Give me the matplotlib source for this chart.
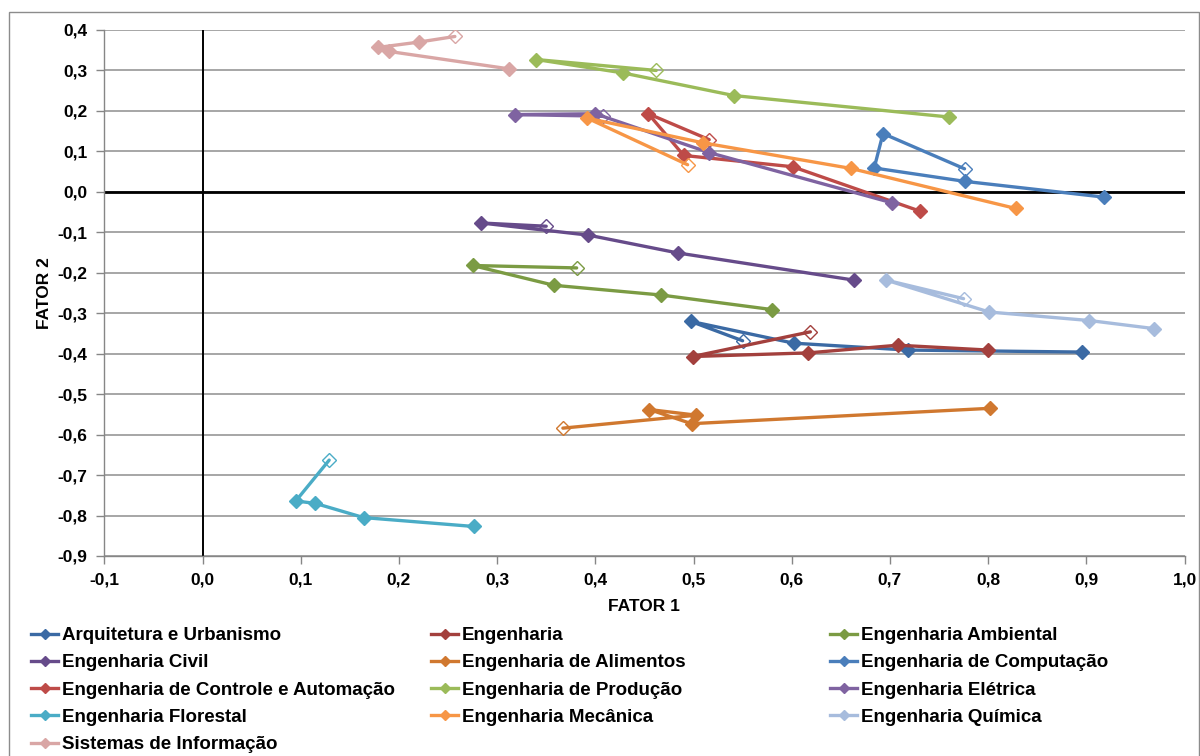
import matplotlib
matplotlib.use('Agg')
import matplotlib.pyplot as plt
from matplotlib.lines import Line2D
from matplotlib.patches import Rectangle
from matplotlib.ticker import MultipleLocator, FuncFormatter

plt.rcParams['font.family'] = ['Liberation Sans', 'DejaVu Sans']

# ---- data (first point of each series is the open marker) ----
names = ["Arquitetura e Urbanismo", "Engenharia", "Engenharia Ambiental",
         "Engenharia Civil", "Engenharia de Alimentos", "Engenharia de Computação",
         "Engenharia de Controle e Automação", "Engenharia de Produção",
         "Engenharia Elétrica", "Engenharia Florestal", "Engenharia Mecânica",
         "Engenharia Química", "Sistemas de Informação"]

colors = ["#3B6AA4", "#A3403D", "#7B9B43", "#664B8A", "#D0782F", "#4A7EBB",
          "#BE4B48", "#9BBB59", "#7F63A1", "#4AACC6", "#F79646", "#A7BCDD",
          "#D9A6A5"]

x_arquitetura = [0.550, 0.497, 0.602, 0.718, 0.896]
y_arquitetura = [-0.368, -0.320, -0.374, -0.391, -0.396]

x_engenharia = [0.619, 0.499, 0.617, 0.708, 0.800]
y_engenharia = [-0.346, -0.407, -0.398, -0.379, -0.391]

x_ambiental = [0.381, 0.275, 0.358, 0.467, 0.580]
y_ambiental = [-0.188, -0.182, -0.231, -0.255, -0.291]

x_civil = [0.350, 0.284, 0.393, 0.484, 0.663]
y_civil = [-0.085, -0.077, -0.107, -0.151, -0.218]

x_alimentos = [0.367, 0.503, 0.455, 0.498, 0.802]
y_alimentos = [-0.584, -0.552, -0.538, -0.573, -0.535]

x_computacao = [0.776, 0.693, 0.684, 0.776, 0.918]
y_computacao = [0.057, 0.144, 0.059, 0.026, -0.013]

x_controle = [0.516, 0.454, 0.490, 0.601, 0.731]
y_controle = [0.129, 0.193, 0.090, 0.062, -0.048]

x_producao = [0.462, 0.340, 0.428, 0.541, 0.760]
y_producao = [0.300, 0.327, 0.294, 0.238, 0.185]

x_eletrica = [0.408, 0.318, 0.400, 0.516, 0.702]
y_eletrica = [0.187, 0.191, 0.193, 0.097, -0.027]

x_florestal = [0.129, 0.095, 0.115, 0.164, 0.276]
y_florestal = [-0.663, -0.764, -0.770, -0.805, -0.827]

x_mecanica = [0.494, 0.392, 0.510, 0.660, 0.828]
y_mecanica = [0.067, 0.182, 0.121, 0.058, -0.041]

x_quimica = [0.775, 0.696, 0.801, 0.903, 0.969]
y_quimica = [-0.264, -0.218, -0.297, -0.318, -0.338]

x_sistemas = [0.257, 0.220, 0.179, 0.190, 0.312]
y_sistemas = [0.384, 0.370, 0.357, 0.347, 0.304]

xs = [x_arquitetura, x_engenharia, x_ambiental, x_civil, x_alimentos,
      x_computacao, x_controle, x_producao, x_eletrica, x_florestal,
      x_mecanica, x_quimica, x_sistemas]
ys = [y_arquitetura, y_engenharia, y_ambiental, y_civil, y_alimentos,
      y_computacao, y_controle, y_producao, y_eletrica, y_florestal,
      y_mecanica, y_quimica, y_sistemas]

W, H = 1200, 756
fig = plt.figure(figsize=(W / 100, H / 100), dpi=100)
L, R, T, B = 104.3, 1184.5, 30, 556
ax = fig.add_axes([L / W, 1 - B / H, (R - L) / W, (B - T) / H])

ax.set_xlim(-0.1, 1.0)
ax.set_ylim(-0.9, 0.4)
ax.xaxis.set_major_locator(MultipleLocator(0.1))
ax.yaxis.set_major_locator(MultipleLocator(0.1))


def fmt(v, pos):
    v = round(v, 1)
    if v == 0:
        v = 0.0
    return f"{v:.1f}".replace('.', ',')


ax.xaxis.set_major_formatter(FuncFormatter(fmt))
ax.yaxis.set_major_formatter(FuncFormatter(fmt))

for lab in ax.get_xticklabels() + ax.get_yticklabels():
    lab.set_fontweight('bold')
    lab.set_fontsize(12.5)

ax.tick_params(axis='both', direction='out', length=6, width=1, color='#868686',
               labelsize=12.5, pad=6)

for s in ['top', 'right']:
    ax.spines[s].set_visible(False)
for s in ['left', 'bottom']:
    ax.spines[s].set_color('#868686')
    ax.spines[s].set_linewidth(1)

ax.yaxis.grid(True, color='#A6A6A6', lw=1.4)
ax.set_axisbelow(True)

ax.axhline(0, color='black', lw=2.0, zorder=1.5)
ax.axvline(0, color='black', lw=1.4, zorder=1.5)

for x, y, c in zip(xs, ys, colors):
    ax.plot(x, y, color=c, lw=2.4, marker='D', ms=7, mfc=c, mec=c, mew=1,
            markevery=list(range(1, len(x))), zorder=3,
            solid_joinstyle='round', solid_capstyle='round')
    ax.plot(x[:1], y[:1], linestyle='none', marker='D', ms=7, mfc='none',
            mec=c, mew=1, zorder=3)

ax.set_xlabel('FATOR 1', fontsize=12.5, fontweight='bold', labelpad=8)
ax.set_ylabel('FATOR 2', fontsize=12.5, fontweight='bold', labelpad=4)

# legend in three columns (row-major order)
handles = [Line2D([], [], color=c, lw=2.4, marker='D', ms=5, mfc=c, mec=c)
           for c in colors]
col_x = [31, 431, 830]
for ci in range(3):
    idx = list(range(ci, len(names), 3))
    lg = fig.legend([handles[i] for i in idx], [names[i] for i in idx],
                    loc='upper left', bbox_to_anchor=(col_x[ci] / W, 1 - 627 / H),
                    frameon=False, prop={'weight': 'bold', 'size': 13.5},
                    handlelength=1.45, handletextpad=0.2, labelspacing=0.54,
                    borderaxespad=0, borderpad=0)

# outer chart border
fig.patches.append(Rectangle((9 / W, -0.05), (1199 - 9) / W, (H - 12) / H + 0.05,
                             transform=fig.transFigure, fill=False,
                             ec='#8C8C8C', lw=1))

fig.savefig('out.png', dpi=100)
